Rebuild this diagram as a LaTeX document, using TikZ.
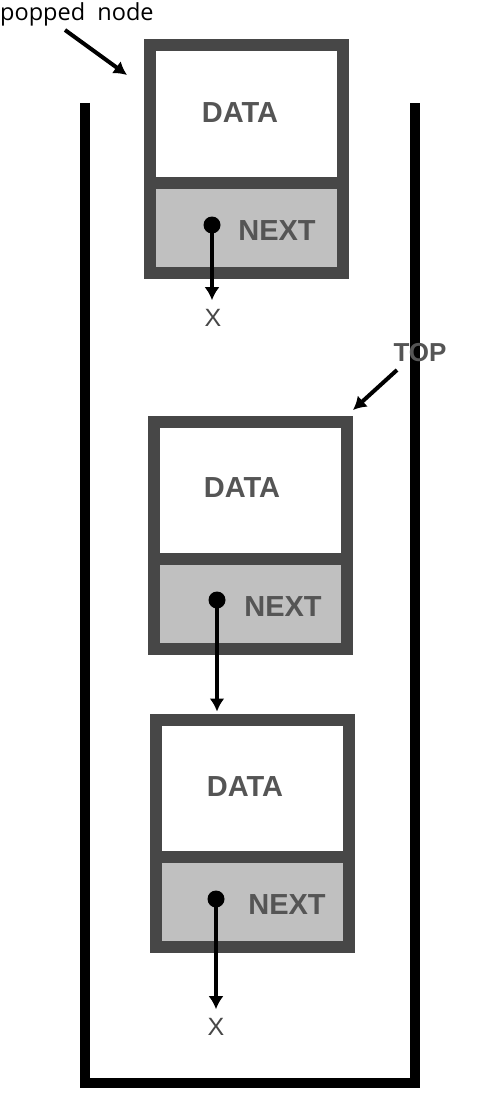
\documentclass[tikz,border=0pt]{standalone}
\usepackage{fontspec}
\setmainfont{Liberation Sans}
\newfontfamily\notefont{Open Sans}
\usepackage{xcolor}
\definecolor{box_gray}{RGB}{71,71,71}
\definecolor{next_gray}{RGB}{192,192,192}
\definecolor{word_gray}{RGB}{85,85,85}
\usepackage{tikz}
\usetikzlibrary{positioning}
\usetikzlibrary{arrows.meta}

\begin{document}
\begin{tikzpicture}[x=1pt,y=-1pt,
  cell/.style={draw=box_gray, line width=12pt, minimum width=193pt, outer sep=0pt, inner sep=0pt},
  word/.style={text=word_gray, font=\bfseries\fontsize{29}{29}\selectfont},
  nil/.style={text=box_gray, inner sep=0pt, font=\fontsize{25}{25}\selectfont},
  dot/.style={circle, fill=black, minimum size=17pt, inner sep=0pt},
  pointer/.style={line width=4pt, -{Latex[length=13pt, width=15pt]}},
  ]
\useasboundingbox (0,0) rectangle (503,1105);

% stack walls
\draw[line width=10pt] (85,103) -- (85,1083) -- (415,1083) -- (415,103);

% --- popped node
\node[cell, fill=white, minimum height=137pt] (D1) at (246,114) {};
\node[cell, fill=next_gray, minimum height=90pt, below=0pt of D1] (N1) {};
\node[word] (T1) at (240,113) {DATA};
\node[word] (L1) at (277,231) {NEXT};
\node[dot] (P1) at (212,225) {};
\node[nil] (X1) at (213,318) {X};
\draw[pointer, shorten >=9pt] (P1.center) -- (P1.center |- X1.north);

% --- top node
\node[cell, fill=white, minimum height=137pt] (D2) at (250,490) {};
\node[cell, fill=next_gray, minimum height=90pt, below=0pt of D2] (N2) {};
\node[word] (T2) at (242,488) {DATA};
\node[word] (L2) at (283,607) {NEXT};
\node[dot] (P2) at (217,600) {};

% --- last node
\node[cell, fill=white, minimum height=137pt] (D3) at (252,788) {};
\node[cell, fill=next_gray, minimum height=90pt, below=0pt of D3] (N3) {};
\node[word] (T3) at (245,787) {DATA};
\node[word] (L3) at (287,905) {NEXT};
\node[dot] (P3) at (216,899) {};
\node[nil] (X3) at (216,1027) {X};
\draw[pointer, shorten >=9pt] (P3.center) -- (P3.center |- X3.north);

\draw[pointer, shorten >=8pt] (P2.center) -- (P2.center |- D3.north);

% --- labels
\node[anchor=west, inner sep=0pt, font=\notefont\fontsize{23.5}{23.5}\selectfont] (POP) at (0,14) {popped\ \ node};
\coordinate (pop_tail) at (65,30);
\coordinate (pop_head) at (127,75);
\draw[pointer] (pop_tail) -- (pop_head);

\node[word, font=\bfseries\fontsize{26}{26}\selectfont] (TOP) at (420,353) {TOP};
\coordinate (top_tail) at (397,370);
\coordinate (top_head) at (353,410);
\draw[pointer] (top_tail) -- (top_head);

\end{tikzpicture}
\end{document}
